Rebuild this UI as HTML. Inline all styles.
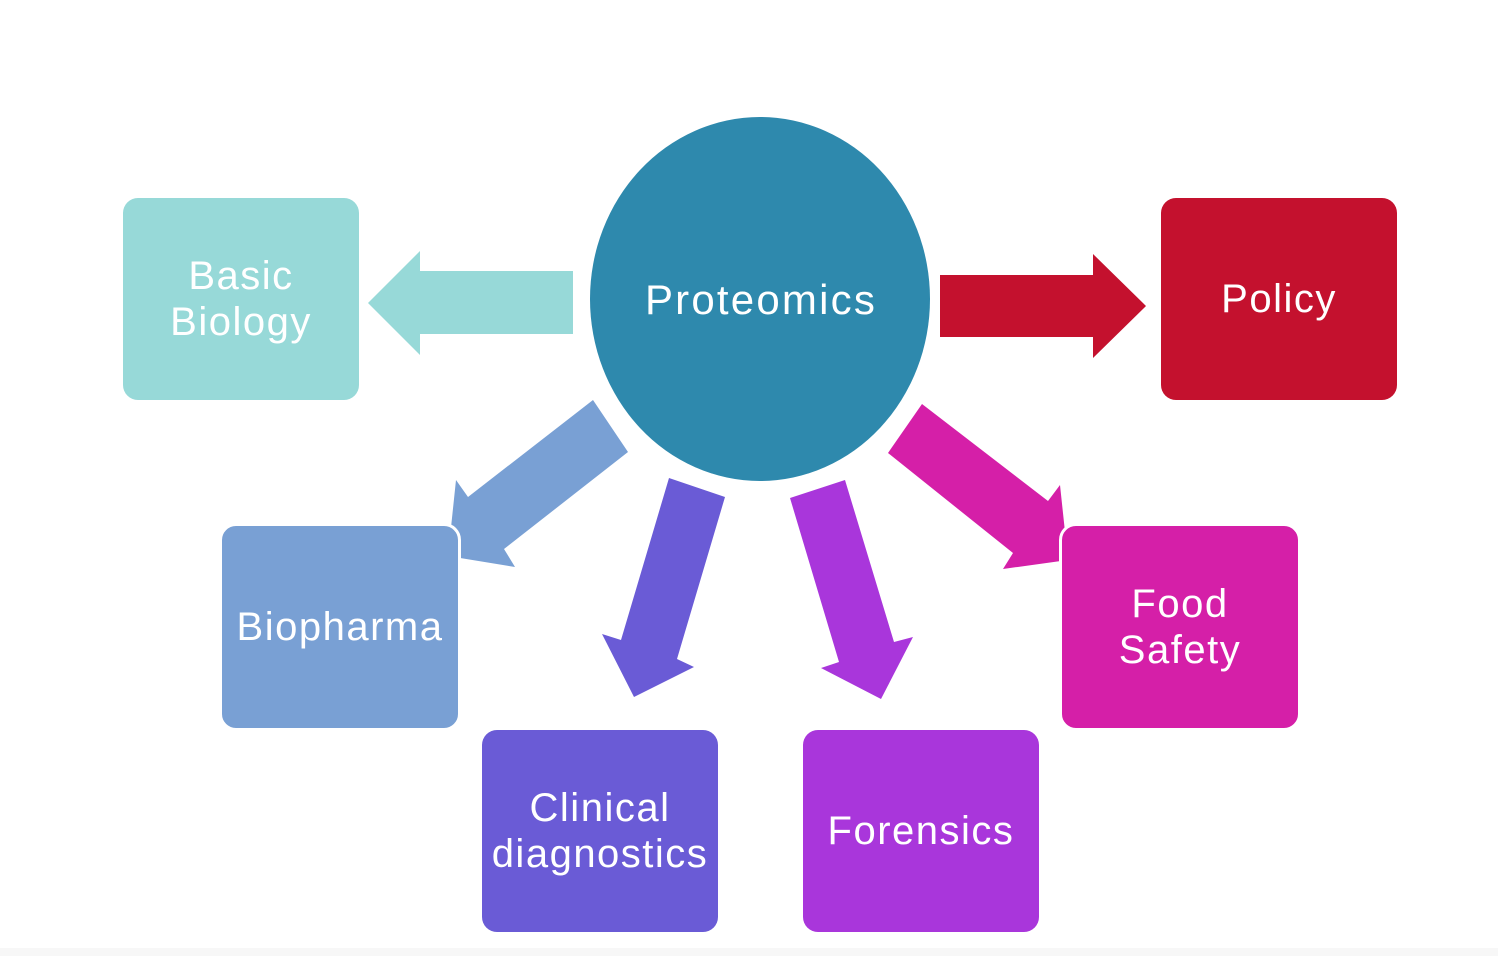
<!DOCTYPE html>
<html><head><style>
html,body{margin:0;padding:0;background:#fff;}
body{width:1498px;height:956px;position:relative;overflow:hidden;font-family:"Liberation Sans",sans-serif;}
.b{position:absolute;width:236px;height:202px;border-radius:15px;color:#fff;font-size:40px;line-height:46px;letter-spacing:1.5px;display:flex;align-items:center;justify-content:center;text-align:center;box-sizing:border-box;}
</style></head><body>
<svg width="1498" height="956" style="position:absolute;left:0;top:0">
<rect x="0" y="948" width="1498" height="8" fill="#f7f7f7"/>
<ellipse cx="760" cy="299" rx="170" ry="182" fill="#2E89AD"/>
<polygon points="573,271 420,271 420,251 368,303 420,355 420,334 573,334" fill="#97D9D8"/>
<polygon points="940,275 1093,275 1093,254 1146,306 1093,358 1093,337 940,337" fill="#C4112E"/>
<polygon points="593,400 628,452 504,549 515,567 448,556 456,480 468,497" fill="#79A0D4"/>
<polygon points="669,478 725,497 677,659 694,667 634,697 602,634 621,640" fill="#6A5BD6"/>
<polygon points="790,498 845,480 894,642 913,637 881,699 821,668 839,662" fill="#A936DB"/>
<polygon points="922,404 888,453 1013,553 1003,569 1068,560 1060,485 1048,501" fill="#D51FA8"/>
<text x="761" y="314" text-anchor="middle" fill="#fff" font-family="Liberation Sans, sans-serif" font-size="42" letter-spacing="2.2">Proteomics</text>
</svg>
<div class="b" style="left:123px;top:198px;background:#97D9D8;">Basic<br>Biology</div>
<div class="b" style="left:1161px;top:198px;background:#C4112E;">Policy</div>
<div class="b" style="left:219px;top:523px;width:242px;height:208px;border:3px solid #fff;border-radius:17px;background:#79A0D4;">Biopharma</div>
<div class="b" style="left:482px;top:730px;background:#6A5BD6;">Clinical<br>diagnostics</div>
<div class="b" style="left:803px;top:730px;background:#A936DB;">Forensics</div>
<div class="b" style="left:1059px;top:523px;width:242px;height:208px;border:3px solid #fff;border-radius:17px;background:#D51FA8;">Food<br>Safety</div>
</body></html>
